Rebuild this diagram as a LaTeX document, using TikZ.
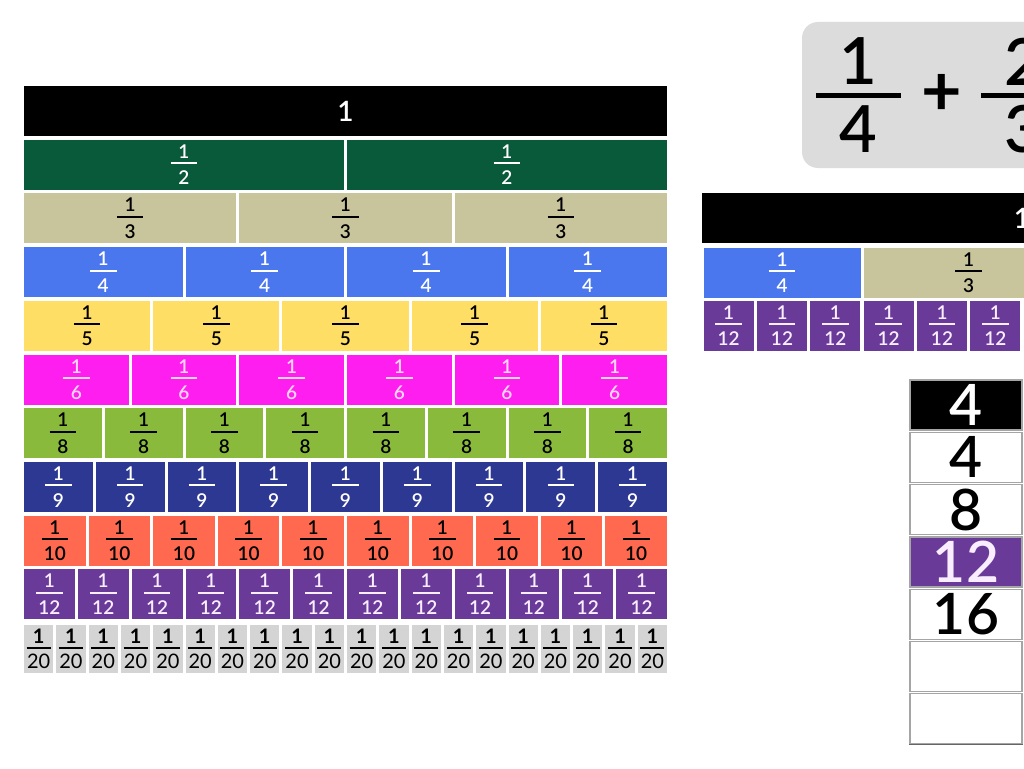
\documentclass[tikz,border=0pt]{standalone}
\usepackage{fontspec}
\setmainfont{Lato}
\newfontfamily\latosemi{Lato Semibold}
\definecolor{cgreen}{RGB}{8,90,58}
\definecolor{ckhaki}{RGB}{200,196,156}
\definecolor{cblue}{RGB}{74,118,238}
\definecolor{cyellow}{RGB}{255,222,102}
\definecolor{cmag}{RGB}{255,30,240}
\definecolor{colive}{RGB}{138,186,60}
\definecolor{cnavy}{RGB}{44,56,145}
\definecolor{csalmon}{RGB}{255,105,80}
\definecolor{cpurple}{RGB}{106,58,152}
\definecolor{cgray}{RGB}{212,212,212}
\definecolor{cpink}{RGB}{255,215,245}
\definecolor{clav}{RGB}{248,238,255}
\definecolor{ceq}{RGB}{220,220,220}
\definecolor{cborder}{RGB}{165,165,165}
\newcommand{\fr}[2]{\vbox{\offinterlineskip\halign{\hfil##\hfil\cr #1\cr\noalign{\kern0.2em}\rule{1.4em}{0.11em}\cr\noalign{\kern0.36em}#2\cr}}}
\newcommand{\frt}[2]{\vbox{\offinterlineskip\halign{\hfil##\hfil\cr #1\cr\noalign{\kern0.15em}\rule{1.2em}{0.14em}\cr\noalign{\kern0.25em}#2\cr}}}
\begin{document}
\begin{tikzpicture}[x=1pt,y=-1pt,
  cell/.style={inner sep=0pt, minimum height=50pt, text=white},
  fracfont/.style={font=\latosemi\fontsize{19}{21}\selectfont},
  numbox/.style={draw=cborder, line width=1.2pt, inner sep=0pt, minimum width=112pt, minimum height=50pt, font=\latosemi\fontsize{57}{58}\selectfont},
  bigtxt/.style={inner sep=0pt, font=\latosemi\fontsize{65}{68}\selectfont},
  eqbar/.style={line width=5pt}]
\useasboundingbox (0,0) rectangle (1024,768);
\clip (0,0) rectangle (1024,768);
\fill[white] (0,0) rectangle (1024,768);

% ---------- main fraction wall ----------
\node[cell, fill=black, minimum width=643pt, font=\latosemi\fontsize{28}{30}\selectfont] (whole) at (345.5,111) {1};
\foreach \n/\fc/\tc [count=\r] in {2/cgreen/white, 3/ckhaki/black, 4/cblue/white, 5/cyellow/black, 6/cmag/cpink, 8/colive/black, 9/cnavy/white, 10/csalmon/black, 12/cpurple/clav} {
  \pgfmathsetmacro\cy{86+\r*53.7+25}
  \pgfmathsetmacro\cw{646/\n}
  \pgfmathsetmacro\cwm{\cw-3}
  \foreach \j in {1,...,\n} {
    \pgfmathsetmacro\cx{22.5+(\j-0.5)*\cw}
    \node[cell, fill=\fc, text=\tc, minimum width=\cwm pt, fracfont] (w\n-\j) at (\cx,\cy) {\fr{1}{\n}};
  }
}
\foreach \j in {1,...,20} {
  \pgfmathsetmacro\cx{22.5+(\j-0.5)*32.3}
  \node[cell, fill=cgray, text=black, minimum width=29.3pt, minimum height=48pt, font=\fontsize{20}{22}\selectfont] (w20-\j) at (\cx,649) {\frt{\bfseries 1}{20}};
}

% ---------- equation box ----------
\fill[ceq, rounded corners=16pt] (802,22) rectangle (1060,168);
\node[bigtxt] (n1) at (858.5,61.5) {1};
\node[bigtxt] (d1) at (858.5,129) {4};
\draw[eqbar] (816,95) -- (901,95);
\node[bigtxt, font=\bfseries\fontsize{70}{72}\selectfont] (plus) at (942,95) {+};
\node[bigtxt] (n2) at (1023.5,61.5) {2};
\node[bigtxt] (d2) at (1023.5,129) {3};
\draw[eqbar] (981,95) -- (1066,95);

% ---------- right bars ----------
\node[cell, fill=black, minimum width=640pt, font=\latosemi\fontsize{28}{30}\selectfont] (rwhole) at (1022,218) {1};
\node[cell, fill=cblue, text=white, minimum width=157pt, fracfont] (r4) at (782,272.5) {\fr{1}{4}};
\node[cell, fill=ckhaki, text=black, minimum width=210.3pt, fracfont] (r3) at (968.7,272.5) {\fr{1}{3}};
\foreach \j in {1,...,7} {
  \pgfmathsetmacro\cx{702+(\j-0.5)*53.333}
  \node[cell, fill=cpurple, text=clav, minimum width=50.3pt, fracfont] (r12-\j) at (\cx,325.5) {\fr{1}{12}};
}

% ---------- number column ----------
\node[numbox, fill=black, text=white] (c1) at (966,405) {4};
\node[numbox, fill=white, text=black] (c2) at (966,457.3) {4};
\node[numbox, fill=white, text=black] (c3) at (966,509.6) {8};
\node[numbox, fill=cpurple, text=clav] (c4) at (966,561.9) {12};
\node[numbox, fill=white, text=black] (c5) at (966,614.2) {16};
\node[numbox, fill=white] (c6) at (966,666.5) {};
\node[numbox, fill=white] (c7) at (966,718.8) {};
\draw[line width=1.5pt, black!60] (c7.south west) -- (c7.south east);
\end{tikzpicture}
\end{document}
